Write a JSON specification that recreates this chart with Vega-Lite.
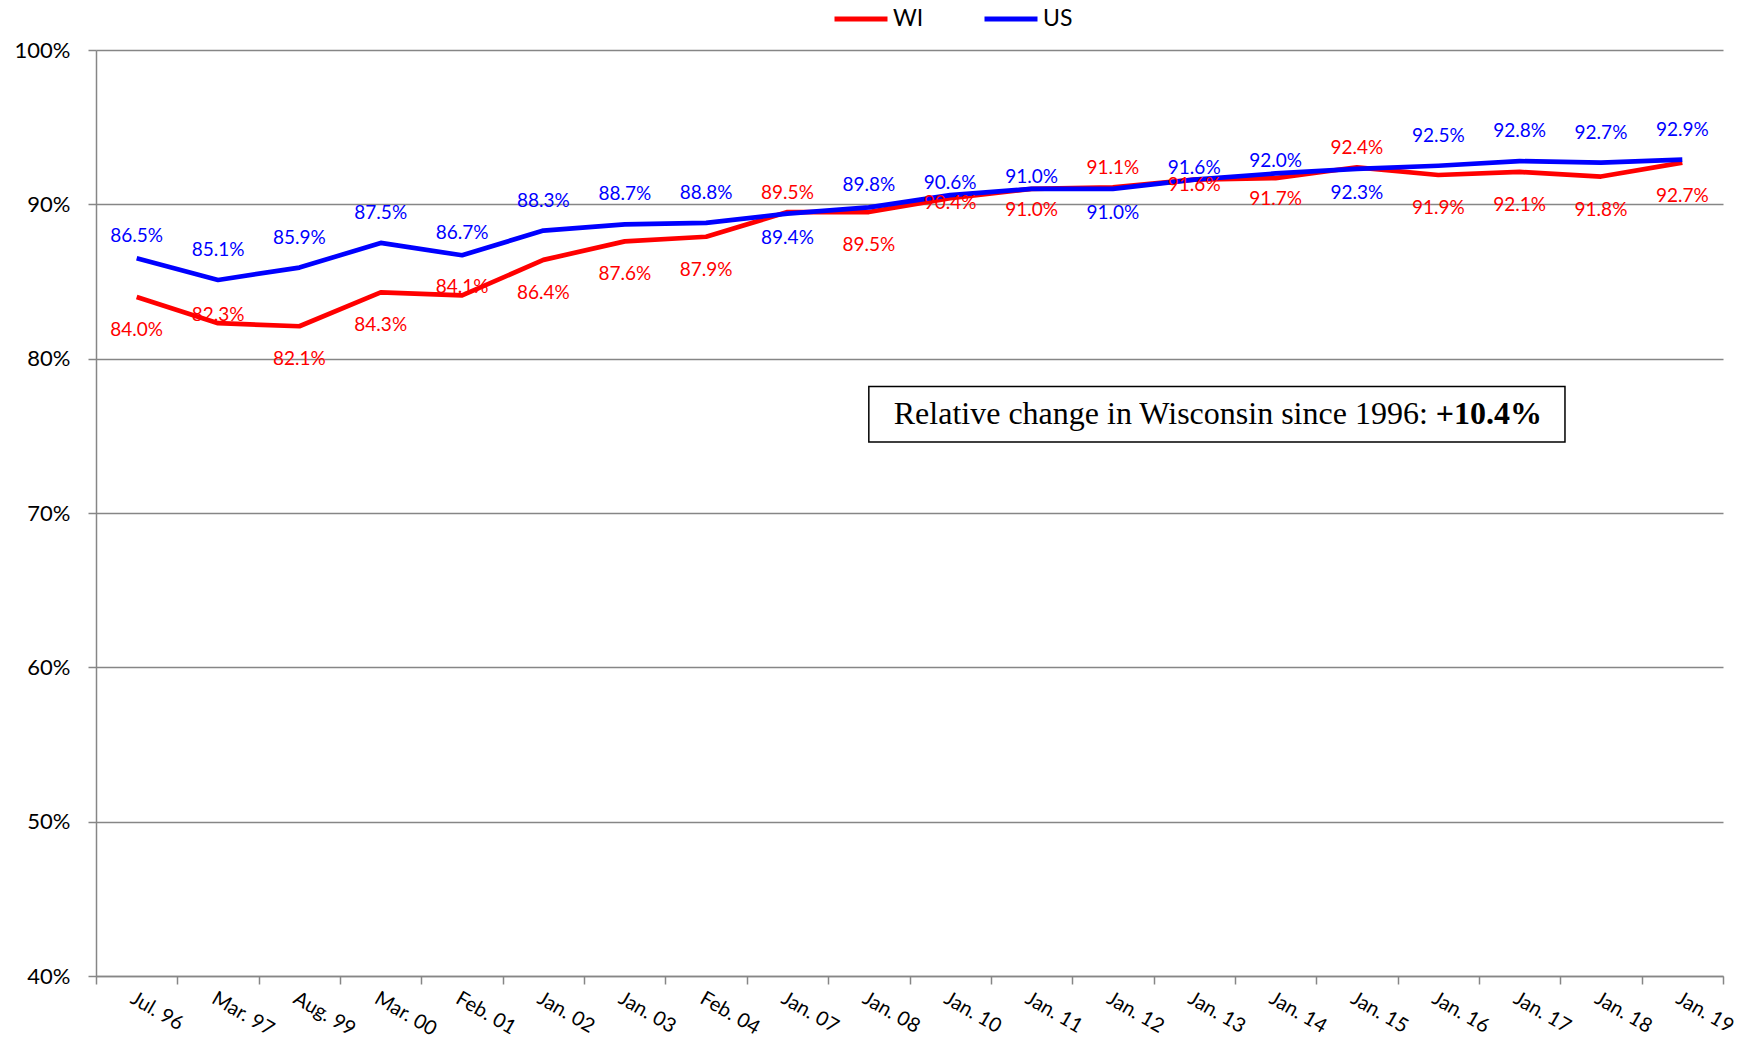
{
  "$schema": "https://vega.github.io/schema/vega-lite/v6.json",
  "width": 1627,
  "height": 926,
  "autosize": {"type": "none"},
  "padding": {"left": 96, "top": 50, "right": 35, "bottom": 72},
  "background": "white",
  "config": {"view": {"stroke": null}, "font": "Lato"},
  "data": {"values": [
    {"date": "Jul. 96", "series": "WI", "value": 0.840},
    {"date": "Mar. 97", "series": "WI", "value": 0.823},
    {"date": "Aug. 99", "series": "WI", "value": 0.821},
    {"date": "Mar. 00", "series": "WI", "value": 0.843},
    {"date": "Feb. 01", "series": "WI", "value": 0.841},
    {"date": "Jan. 02", "series": "WI", "value": 0.864},
    {"date": "Jan. 03", "series": "WI", "value": 0.876},
    {"date": "Feb. 04", "series": "WI", "value": 0.879},
    {"date": "Jan. 07", "series": "WI", "value": 0.895},
    {"date": "Jan. 08", "series": "WI", "value": 0.895},
    {"date": "Jan. 10", "series": "WI", "value": 0.904},
    {"date": "Jan. 11", "series": "WI", "value": 0.910},
    {"date": "Jan. 12", "series": "WI", "value": 0.911},
    {"date": "Jan. 13", "series": "WI", "value": 0.916},
    {"date": "Jan. 14", "series": "WI", "value": 0.917},
    {"date": "Jan. 15", "series": "WI", "value": 0.924},
    {"date": "Jan. 16", "series": "WI", "value": 0.919},
    {"date": "Jan. 17", "series": "WI", "value": 0.921},
    {"date": "Jan. 18", "series": "WI", "value": 0.918},
    {"date": "Jan. 19", "series": "WI", "value": 0.927},
    {"date": "Jul. 96", "series": "US", "value": 0.865},
    {"date": "Mar. 97", "series": "US", "value": 0.851},
    {"date": "Aug. 99", "series": "US", "value": 0.859},
    {"date": "Mar. 00", "series": "US", "value": 0.875},
    {"date": "Feb. 01", "series": "US", "value": 0.867},
    {"date": "Jan. 02", "series": "US", "value": 0.883},
    {"date": "Jan. 03", "series": "US", "value": 0.887},
    {"date": "Feb. 04", "series": "US", "value": 0.888},
    {"date": "Jan. 07", "series": "US", "value": 0.894},
    {"date": "Jan. 08", "series": "US", "value": 0.898},
    {"date": "Jan. 10", "series": "US", "value": 0.906},
    {"date": "Jan. 11", "series": "US", "value": 0.910},
    {"date": "Jan. 12", "series": "US", "value": 0.910},
    {"date": "Jan. 13", "series": "US", "value": 0.916},
    {"date": "Jan. 14", "series": "US", "value": 0.920},
    {"date": "Jan. 15", "series": "US", "value": 0.923},
    {"date": "Jan. 16", "series": "US", "value": 0.925},
    {"date": "Jan. 17", "series": "US", "value": 0.928},
    {"date": "Jan. 18", "series": "US", "value": 0.927},
    {"date": "Jan. 19", "series": "US", "value": 0.929}
  ]},
  "encoding": {
    "x": {
      "field": "date", "type": "nominal", "sort": null,
      "scale": {"domain": ["Jul. 96","Mar. 97","Aug. 99","Mar. 00","Feb. 01","Jan. 02","Jan. 03","Feb. 04","Jan. 07","Jan. 08","Jan. 10","Jan. 11","Jan. 12","Jan. 13","Jan. 14","Jan. 15","Jan. 16","Jan. 17","Jan. 18","Jan. 19"], "paddingInner": 0, "paddingOuter": 0},
      "axis": {"title": null, "labelAngle": 30, "labelAlign": "left", "labelBaseline": "top", "labelFont": "Lato", "labelFontSize": 20, "labelColor": "black", "tickBand": "extent", "tickSize": 8, "tickWidth": 1.5, "tickColor": "#868686", "domainColor": "#868686", "domainWidth": 1.5, "labelPadding": 4, "grid": false}
    },
    "y": {
      "field": "value", "type": "quantitative",
      "scale": {"domain": [0.4, 1.0], "nice": false, "zero": false},
      "axis": {"title": null, "values": [0.4, 0.5, 0.6, 0.7, 0.8, 0.9, 1.0], "format": ".0%", "labelFont": "Lato", "labelFontSize": 22, "labelColor": "black", "tickSize": 8, "tickWidth": 1.5, "tickColor": "#868686", "domainColor": "#868686", "domainWidth": 1.5, "grid": true, "gridColor": "#868686", "gridWidth": 1.5, "labelPadding": 18}
    }
  },
  "layer": [
    {
      "transform": [{"filter": "datum.series === 'WI' && datum.date === 'Jul. 96'"}],
      "mark": {"type": "rect", "fill": "white", "stroke": "black", "strokeWidth": 1.5, "x2Offset": -36},
      "encoding": {
        "x": {"datum": "Jan. 08", "type": "nominal"},
        "x2": {"datum": "Jan. 18"},
        "y": {"datum": 0.782, "type": "quantitative"},
        "y2": {"datum": 0.746}
      }
    },
    {
      "transform": [{"filter": "datum.series === 'WI' && datum.date === 'Jul. 96'"}],
      "mark": {"type": "text", "font": "Liberation Serif", "fontSize": 32, "align": "right", "baseline": "middle", "dx": -4, "color": "black", "text": "Relative change in Wisconsin since 1996:"},
      "encoding": {
        "x": {"datum": "Jan. 16", "type": "nominal", "bandPosition": 0.42},
        "y": {"datum": 0.764, "type": "quantitative"}
      }
    },
    {
      "transform": [{"filter": "datum.series === 'WI' && datum.date === 'Jul. 96'"}],
      "mark": {"type": "text", "font": "Liberation Serif", "fontSize": 32, "fontWeight": "bold", "align": "left", "baseline": "middle", "dx": 4, "color": "black", "text": "+10.4%"},
      "encoding": {
        "x": {"datum": "Jan. 16", "type": "nominal", "bandPosition": 0.42},
        "y": {"datum": 0.764, "type": "quantitative"}
      }
    },
    {
      "transform": [{"filter": "datum.series === 'WI'"}],
      "mark": {"type": "line", "strokeWidth": 4.7, "strokeJoin": "round"},
      "encoding": {
        "color": {"field": "series", "type": "nominal", "scale": {"domain": ["WI", "US"], "range": ["#FF0000", "#0000FF"]},
          "legend": {"orient": "none", "legendX": 736, "legendY": -60, "direction": "horizontal", "title": null, "symbolType": "stroke", "symbolSize": 2809, "symbolStrokeWidth": 5, "labelFont": "Lato", "labelFontSize": 23, "labelColor": "black", "labelOffset": 3, "columnPadding": 50, "padding": 0}}
      }
    },
    {
      "transform": [{"filter": "datum.series === 'US'"}],
      "mark": {"type": "line", "strokeWidth": 4.7, "strokeJoin": "round"},
      "encoding": {
        "color": {"field": "series", "type": "nominal"}
      }
    },
    {
      "transform": [{"filter": "datum.series === 'WI' && indexof(['Jul. 96','Aug. 99','Mar. 00','Jan. 02','Jan. 03','Feb. 04','Jan. 08','Jan. 16','Jan. 17','Jan. 18','Jan. 19'], datum.date) >= 0"}],
      "mark": {"type": "text", "font": "Lato", "fontSize": 19, "color": "#FF0000", "baseline": "middle", "dy": 33},
      "encoding": {"text": {"field": "value", "type": "quantitative", "format": ".1%"}}
    },
    {
      "transform": [{"filter": "datum.series === 'WI' && indexof(['Jan. 11','Jan. 14'], datum.date) >= 0"}],
      "mark": {"type": "text", "font": "Lato", "fontSize": 19, "color": "#FF0000", "baseline": "middle", "dy": 21},
      "encoding": {"text": {"field": "value", "type": "quantitative", "format": ".1%"}}
    },
    {
      "transform": [{"filter": "datum.series === 'WI' && indexof(['Jan. 10','Jan. 13'], datum.date) >= 0"}],
      "mark": {"type": "text", "font": "Lato", "fontSize": 19, "color": "#FF0000", "baseline": "middle", "dy": 5},
      "encoding": {"text": {"field": "value", "type": "quantitative", "format": ".1%"}}
    },
    {
      "transform": [{"filter": "datum.series === 'WI' && indexof(['Mar. 97','Feb. 01'], datum.date) >= 0"}],
      "mark": {"type": "text", "font": "Lato", "fontSize": 19, "color": "#FF0000", "baseline": "middle", "dy": -8},
      "encoding": {"text": {"field": "value", "type": "quantitative", "format": ".1%"}}
    },
    {
      "transform": [{"filter": "datum.series === 'WI' && indexof(['Jan. 07','Jan. 12','Jan. 15'], datum.date) >= 0"}],
      "mark": {"type": "text", "font": "Lato", "fontSize": 19, "color": "#FF0000", "baseline": "middle", "dy": -19},
      "encoding": {"text": {"field": "value", "type": "quantitative", "format": ".1%"}}
    },
    {
      "transform": [{"filter": "datum.series === 'US' && indexof(['Mar. 97','Aug. 99','Mar. 00','Jan. 02','Jan. 03','Feb. 04','Jan. 16','Jan. 17','Jan. 18','Jan. 19'], datum.date) >= 0"}],
      "mark": {"type": "text", "font": "Lato", "fontSize": 19, "color": "#0000FF", "baseline": "middle", "dy": -30},
      "encoding": {"text": {"field": "value", "type": "quantitative", "format": ".1%"}}
    },
    {
      "transform": [{"filter": "datum.series === 'US' && indexof(['Jul. 96','Feb. 01','Jan. 08'], datum.date) >= 0"}],
      "mark": {"type": "text", "font": "Lato", "fontSize": 19, "color": "#0000FF", "baseline": "middle", "dy": -22},
      "encoding": {"text": {"field": "value", "type": "quantitative", "format": ".1%"}}
    },
    {
      "transform": [{"filter": "datum.series === 'US' && indexof(['Jan. 10','Jan. 11','Jan. 13','Jan. 14'], datum.date) >= 0"}],
      "mark": {"type": "text", "font": "Lato", "fontSize": 19, "color": "#0000FF", "baseline": "middle", "dy": -12},
      "encoding": {"text": {"field": "value", "type": "quantitative", "format": ".1%"}}
    },
    {
      "transform": [{"filter": "datum.series === 'US' && indexof(['Jan. 07','Jan. 12','Jan. 15'], datum.date) >= 0"}],
      "mark": {"type": "text", "font": "Lato", "fontSize": 19, "color": "#0000FF", "baseline": "middle", "dy": 24},
      "encoding": {"text": {"field": "value", "type": "quantitative", "format": ".1%"}}
    }
  ]
}
